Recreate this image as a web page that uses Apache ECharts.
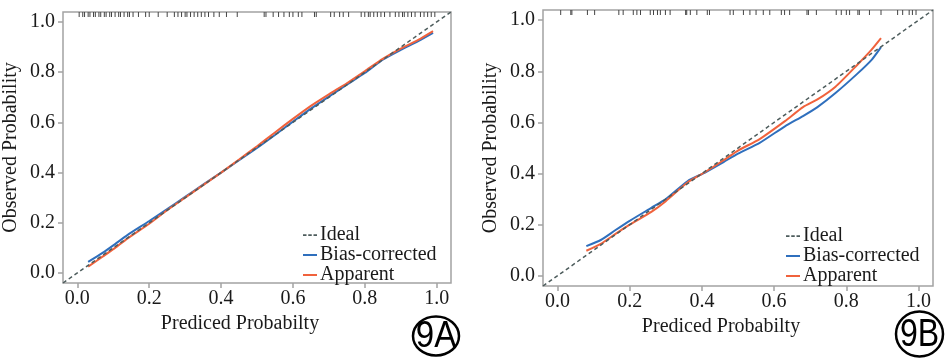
<!DOCTYPE html>
<html><head><meta charset="utf-8">
<script src="https://cdn.jsdelivr.net/npm/echarts@6/dist/echarts.min.js"></script>
<style>html,body{margin:0;padding:0;background:#fff}#c{width:945px;height:361px}</style>
</head><body><div id="c"></div>
<script>
// ---- data ----
const tickValues = [0, 0.2, 0.4, 0.6, 0.8, 1.0];
const axisRange = [-0.04, 1.04];
const seriesNames = ['Ideal', 'Bias-corrected', 'Apparent'];
const panelLabels = ['9A', '9B'];

// Panel A (9A)
const aX = [0.03,0.07,0.10,0.14,0.20,0.25,0.30,0.35,0.40,0.45,0.50,0.55,0.60,0.65,0.70,0.75,0.80,0.85,0.90,0.95,0.99];
const aBias = [0.044,0.080,0.110,0.152,0.207,0.255,0.303,0.352,0.400,0.449,0.498,0.550,0.603,0.655,0.703,0.750,0.797,0.850,0.889,0.925,0.957];
const aApparent = [0.025,0.065,0.095,0.138,0.196,0.250,0.300,0.350,0.400,0.452,0.505,0.560,0.614,0.666,0.712,0.756,0.804,0.853,0.894,0.930,0.964];
const aRug = [0.005,0.015,0.02,0.03,0.035,0.045,0.05,0.06,0.065,0.075,0.08,0.09,0.095,0.105,0.115,0.12,0.13,0.14,0.145,0.155,0.17,0.19,0.2,0.225,0.25,0.27,0.28,0.29,0.3,0.305,0.315,0.325,0.335,0.345,0.355,0.365,0.38,0.395,0.415,0.445,0.52,0.525,0.545,0.56,0.575,0.59,0.6,0.615,0.625,0.66,0.665,0.705,0.715,0.73,0.74,0.755,0.79,0.8,0.81,0.815,0.825,0.835,0.845,0.855,0.87,0.885,0.895,0.905,0.91,0.92,0.93,0.94,0.955,0.965,0.975,0.985,0.995];

// Panel B (9B)
const bX = [0.08,0.12,0.16,0.20,0.26,0.30,0.36,0.41,0.46,0.50,0.56,0.63,0.68,0.72,0.77,0.83,0.87,0.896];
const bBias = [0.116,0.140,0.178,0.215,0.266,0.300,0.370,0.405,0.445,0.478,0.520,0.585,0.625,0.660,0.715,0.790,0.845,0.895];
const bApparent = [0.098,0.125,0.163,0.200,0.250,0.292,0.365,0.407,0.452,0.490,0.535,0.605,0.660,0.690,0.740,0.825,0.885,0.930];
const bRug = [0.009,0.037,0.04,0.083,0.103,0.17,0.182,0.21,0.22,0.23,0.257,0.266,0.277,0.285,0.299,0.312,0.355,0.358,0.368,0.386,0.415,0.421,0.478,0.487,0.515,0.533,0.55,0.57,0.588,0.62,0.629,0.643,0.691,0.695,0.717,0.772,0.786,0.8,0.809,0.832,0.836,0.864,0.896,0.942,0.956,0.974,0.983,0.993];

// ---- chart ----
const colors = { ideal: '#4d5c5c', bias: '#2f6fbd', apparent: '#f0623c', frame: '#a3a3a3', text: '#1a1a1a' };
const serif = '"Liberation Serif", "DejaVu Serif", serif';
const zip = (xs, ys) => xs.map((x, i) => [x, ys[i]]);

const grids = [
  { left: 61, top: 12, width: 390, height: 271 },
  { left: 543, top: 10, width: 390, height: 276 }
];

function xAxis(i) {
  return {
    gridIndex: i, type: 'value', min: axisRange[0], max: axisRange[1],
    name: 'Prediced Probabilty', nameLocation: 'middle', nameGap: 30,
    nameTextStyle: { fontFamily: serif, fontSize: 20, color: colors.text, padding: [0, 34, 0, 0] },
    axisLine: { show: false, onZero: false },
    axisTick: { show: true, customValues: tickValues, length: 5, lineStyle: { color: colors.frame, width: 1.5 } },
    axisLabel: { customValues: tickValues, formatter: v => v.toFixed(1), fontFamily: serif, fontSize: 20, color: colors.text, margin: 6 },
    splitLine: { show: false }
  };
}
function yAxis(i) {
  return {
    gridIndex: i, type: 'value', min: axisRange[0], max: axisRange[1],
    name: 'Observed Probability', nameLocation: 'middle', nameGap: 42,
    nameTextStyle: { fontFamily: serif, fontSize: 20, color: colors.text },
    axisLine: { show: false, onZero: false },
    axisTick: { show: true, customValues: tickValues, length: 5, lineStyle: { color: colors.frame, width: 1.5 } },
    axisLabel: { customValues: tickValues, formatter: v => v.toFixed(1), fontFamily: serif, fontSize: 20, color: colors.text, margin: 8 },
    splitLine: { show: false }
  };
}

function rugSeries(i, vals) {
  return {
    type: 'custom', xAxisIndex: i, yAxisIndex: i, silent: true, clip: false,
    data: vals.map(v => [v]),
    renderItem: (params, api) => {
      const p = api.coord([api.value(0), axisRange[1]]);
      return { type: 'line', shape: { x1: p[0], y1: p[1], x2: p[0], y2: p[1] + 5 },
               style: { stroke: '#444', lineWidth: 1 } };
    }
  };
}
function panelSeries(i, xs, bias, apparent, rug) {
  return [
    { name: seriesNames[0], type: 'line', xAxisIndex: i, yAxisIndex: i, symbol: 'none',
      data: [[axisRange[0], axisRange[0]], [axisRange[1], axisRange[1]]],
      lineStyle: { color: colors.ideal, width: 1.5, type: [4, 3] }, itemStyle: { color: colors.ideal }, z: 3 },
    { name: seriesNames[1], type: 'line', xAxisIndex: i, yAxisIndex: i, symbol: 'none', smooth: 0.2,
      data: zip(xs, bias), lineStyle: { color: colors.bias, width: 2 }, itemStyle: { color: colors.bias }, z: 2 },
    { name: seriesNames[2], type: 'line', xAxisIndex: i, yAxisIndex: i, symbol: 'none', smooth: 0.2,
      data: zip(xs, apparent), lineStyle: { color: colors.apparent, width: 2 }, itemStyle: { color: colors.apparent }, z: 2 },
    rugSeries(i, rug)
  ];
}

const dashIcon = 'path://M0,0H4V2H0Z M6,0H10V2H6Z M12,0H16V2H12Z';
function legend(left, top) {
  return {
    left, top, orient: 'vertical', itemWidth: 14, itemHeight: 2, itemGap: 0,
    data: [
      { name: seriesNames[0], icon: dashIcon },
      { name: seriesNames[1], icon: 'rect' },
      { name: seriesNames[2], icon: 'rect' }
    ],
    textStyle: { fontFamily: serif, fontSize: 20, color: colors.text, lineHeight: 18.5, padding: [0, 0, 0, -2] },
    selectedMode: false
  };
}

function badge(cx, cy, rx, ry, label, fontSize, sy) {
  return [
    { type: 'ellipse', shape: { cx, cy, rx, ry }, style: { fill: 'none', stroke: '#000', lineWidth: 2.5 } },
    { type: 'text', x: cx, y: cy + 1, scaleY: sy,
      style: { text: label, font: fontSize + 'px "Liberation Sans", Arial, sans-serif', fill: '#000', align: 'center', verticalAlign: 'middle' } }
  ];
}

const chart = echarts.init(document.getElementById('c'), null, { renderer: 'canvas' });
chart.setOption({
  backgroundColor: '#fff',
  animation: false,
  grid: grids.map(g => Object.assign({ show: true, borderColor: colors.frame, borderWidth: 1.5, backgroundColor: '#fff' }, g)),
  xAxis: [xAxis(0), xAxis(1)],
  yAxis: [yAxis(0), yAxis(1)],
  legend: [legend(298, 220), legend(781, 221)],
  series: [
    ...panelSeries(0, aX, aBias, aApparent, aRug),
    ...panelSeries(1, bX, bBias, bApparent, bRug)
  ],
  graphic: [
    ...badge(436, 336, 23, 19.5, panelLabels[0], 33, 1.1),
    ...badge(919.5, 334, 23.5, 22.5, panelLabels[1], 32, 1.2)
  ]
});
</script></body></html>
